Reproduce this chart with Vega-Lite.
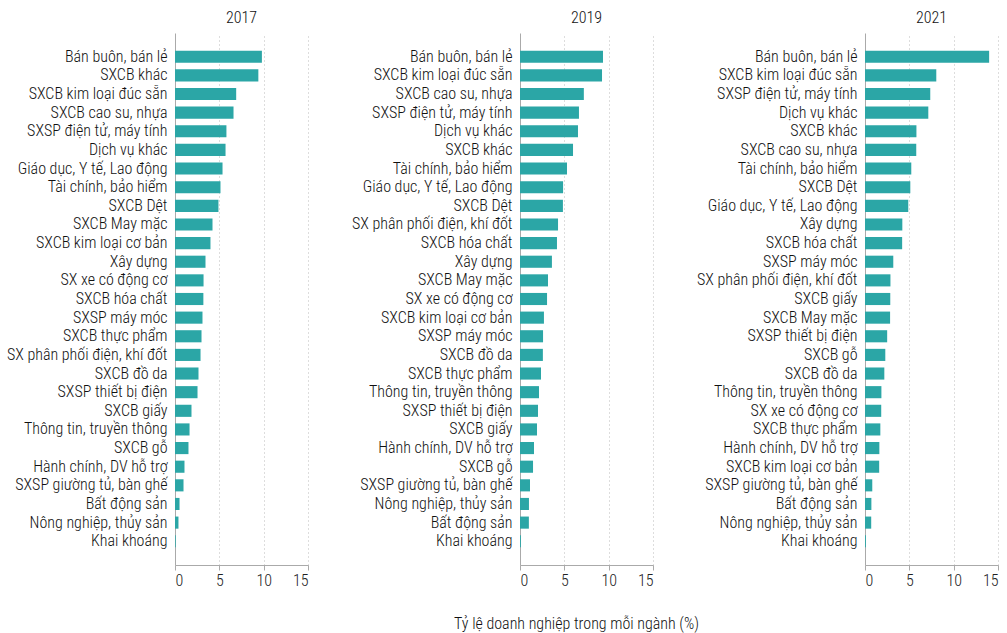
{
  "$schema": "https://vega.github.io/schema/vega-lite/v6.json",
  "background": "white",
  "padding": {"left": 6, "top": 10, "right": 0, "bottom": 5},
  "datasets": {
    "d2017": [
      {"nganh": "Bán buôn, bán lẻ", "ty_le": 9.8},
      {"nganh": "SXCB khác", "ty_le": 9.4},
      {"nganh": "SXCB kim loại đúc sẵn", "ty_le": 6.9},
      {"nganh": "SXCB cao su, nhựa", "ty_le": 6.6},
      {"nganh": "SXSP điện tử, máy tính", "ty_le": 5.8},
      {"nganh": "Dịch vụ khác", "ty_le": 5.7},
      {"nganh": "Giáo dục, Y tế, Lao động", "ty_le": 5.36},
      {"nganh": "Tài chính, bảo hiểm", "ty_le": 5.13},
      {"nganh": "SXCB Dệt", "ty_le": 4.9},
      {"nganh": "SXCB May mặc", "ty_le": 4.23},
      {"nganh": "SXCB kim loại cơ bản", "ty_le": 4.0},
      {"nganh": "Xây dựng", "ty_le": 3.44},
      {"nganh": "SX xe có động cơ", "ty_le": 3.22},
      {"nganh": "SXCB hóa chất", "ty_le": 3.2},
      {"nganh": "SXSP máy móc", "ty_le": 3.1},
      {"nganh": "SXCB thực phẩm", "ty_le": 2.99},
      {"nganh": "SX phân phối điện, khí đốt", "ty_le": 2.88},
      {"nganh": "SXCB đồ da", "ty_le": 2.65},
      {"nganh": "SXSP thiết bị điện", "ty_le": 2.54},
      {"nganh": "SXCB giấy", "ty_le": 1.86},
      {"nganh": "Thông tin, truyền thông", "ty_le": 1.64},
      {"nganh": "SXCB gỗ", "ty_le": 1.52},
      {"nganh": "Hành chính, DV hỗ trợ", "ty_le": 1.07},
      {"nganh": "SXSP giường tủ, bàn ghế", "ty_le": 0.96},
      {"nganh": "Bất động sản", "ty_le": 0.51},
      {"nganh": "Nông nghiệp, thủy sản", "ty_le": 0.39},
      {"nganh": "Khai khoáng", "ty_le": 0.08}
    ],
    "d2019": [
      {"nganh": "Bán buôn, bán lẻ", "ty_le": 9.36},
      {"nganh": "SXCB kim loại đúc sẵn", "ty_le": 9.25},
      {"nganh": "SXCB cao su, nhựa", "ty_le": 7.2},
      {"nganh": "SXSP điện tử, máy tính", "ty_le": 6.65},
      {"nganh": "Dịch vụ khác", "ty_le": 6.54},
      {"nganh": "SXCB khác", "ty_le": 5.98},
      {"nganh": "Tài chính, bảo hiểm", "ty_le": 5.3},
      {"nganh": "Giáo dục, Y tế, Lao động", "ty_le": 4.86},
      {"nganh": "SXCB Dệt", "ty_le": 4.84},
      {"nganh": "SX phân phối điện, khí đốt", "ty_le": 4.29},
      {"nganh": "SXCB hóa chất", "ty_le": 4.17},
      {"nganh": "Xây dựng", "ty_le": 3.6},
      {"nganh": "SXCB May mặc", "ty_le": 3.16},
      {"nganh": "SX xe có động cơ", "ty_le": 3.05},
      {"nganh": "SXCB kim loại cơ bản", "ty_le": 2.7},
      {"nganh": "SXSP máy móc", "ty_le": 2.6},
      {"nganh": "SXCB đồ da", "ty_le": 2.58},
      {"nganh": "SXCB thực phẩm", "ty_le": 2.37},
      {"nganh": "Thông tin, truyền thông", "ty_le": 2.14},
      {"nganh": "SXSP thiết bị điện", "ty_le": 2.03},
      {"nganh": "SXCB giấy", "ty_le": 1.92},
      {"nganh": "Hành chính, DV hỗ trợ", "ty_le": 1.58},
      {"nganh": "SXCB gỗ", "ty_le": 1.47},
      {"nganh": "SXSP giường tủ, bàn ghế", "ty_le": 1.13},
      {"nganh": "Nông nghiệp, thủy sản", "ty_le": 1.01},
      {"nganh": "Bất động sản", "ty_le": 1.0},
      {"nganh": "Khai khoáng", "ty_le": 0.1}
    ],
    "d2021": [
      {"nganh": "Bán buôn, bán lẻ", "ty_le": 14.0},
      {"nganh": "SXCB kim loại đúc sẵn", "ty_le": 8.04},
      {"nganh": "SXSP điện tử, máy tính", "ty_le": 7.36},
      {"nganh": "Dịch vụ khác", "ty_le": 7.14},
      {"nganh": "SXCB khác", "ty_le": 5.8},
      {"nganh": "SXCB cao su, nhựa", "ty_le": 5.78},
      {"nganh": "Tài chính, bảo hiểm", "ty_le": 5.22},
      {"nganh": "SXCB Dệt", "ty_le": 5.11},
      {"nganh": "Giáo dục, Y tế, Lao động", "ty_le": 4.88},
      {"nganh": "Xây dựng", "ty_le": 4.21},
      {"nganh": "SXCB hóa chất", "ty_le": 4.19},
      {"nganh": "SXSP máy móc", "ty_le": 3.19},
      {"nganh": "SX phân phối điện, khí đốt", "ty_le": 2.87},
      {"nganh": "SXCB giấy", "ty_le": 2.85},
      {"nganh": "SXCB May mặc", "ty_le": 2.83},
      {"nganh": "SXSP thiết bị điện", "ty_le": 2.5},
      {"nganh": "SXCB gỗ", "ty_le": 2.29},
      {"nganh": "SXCB đồ da", "ty_le": 2.18},
      {"nganh": "Thông tin, truyền thông", "ty_le": 1.85},
      {"nganh": "SX xe có động cơ", "ty_le": 1.83},
      {"nganh": "SXCB thực phẩm", "ty_le": 1.73},
      {"nganh": "Hành chính, DV hỗ trợ", "ty_le": 1.62},
      {"nganh": "SXCB kim loại cơ bản", "ty_le": 1.6},
      {"nganh": "SXSP giường tủ, bàn ghế", "ty_le": 0.82},
      {"nganh": "Bất động sản", "ty_le": 0.72},
      {"nganh": "Nông nghiệp, thủy sản", "ty_le": 0.7},
      {"nganh": "Khai khoáng", "ty_le": 0.1}
    ]
  },
  "spacing": 212,
  "bounds": "flush",
  "hconcat": [
    {
      "title": "2017",
      "width": 133,
      "height": 532,
      "data": {"name": "d2017"},
      "mark": {"type": "bar", "color": "#2ba6a6"},
      "encoding": {
        "y": {"field": "nganh", "type": "nominal", "sort": "-x", "title": null,
              "scale": {"paddingInner": 0.35, "paddingOuter": 0.95}},
        "x": {"field": "ty_le", "type": "quantitative", "title": null,
              "scale": {"domain": [0, 15]}, "axis": {"values": [0, 5, 10, 15]}}
      }
    },
    {
      "title": "2019",
      "width": 133,
      "height": 532,
      "data": {"name": "d2019"},
      "mark": {"type": "bar", "color": "#2ba6a6"},
      "encoding": {
        "y": {"field": "nganh", "type": "nominal", "sort": "-x", "title": null,
              "scale": {"paddingInner": 0.35, "paddingOuter": 0.95}},
        "x": {"field": "ty_le", "type": "quantitative",
              "title": "Tỷ lệ doanh nghiệp trong mỗi ngành (%)",
              "scale": {"domain": [0, 15]},
              "axis": {"values": [0, 5, 10, 15], "titlePadding": 27, "titleX": 56}}
      }
    },
    {
      "title": "2021",
      "width": 133,
      "height": 532,
      "data": {"name": "d2021"},
      "mark": {"type": "bar", "color": "#2ba6a6"},
      "encoding": {
        "y": {"field": "nganh", "type": "nominal", "sort": "-x", "title": null,
              "scale": {"paddingInner": 0.35, "paddingOuter": 0.95}},
        "x": {"field": "ty_le", "type": "quantitative", "title": null,
              "scale": {"domain": [0, 15]}, "axis": {"values": [0, 5, 10, 15]}}
      }
    }
  ],
  "config": {
    "font": "Roboto Condensed, Liberation Sans Narrow, Roboto",
    "view": {"stroke": null},
    "title": {"fontSize": 16, "fontWeight": 300, "color": "#111", "offset": 7},
    "axisY": {"labelFontSize": 16, "labelFontWeight": 300, "labelColor": "#111", "ticks": false, "domainColor": "#aaa",
              "labelPadding": 8, "grid": false, "labelLimit": 300},
    "axisX": {"labelFontSize": 16, "labelFontWeight": 300, "labelColor": "#222", "domainColor": "#aaa", "tickColor": "#aaa",
              "tickSize": 5, "grid": true, "gridColor": "#bbb", "gridDash": [1, 3],
              "titleFontSize": 16, "titleFontWeight": 300, "titleColor": "#111"}
  }
}
